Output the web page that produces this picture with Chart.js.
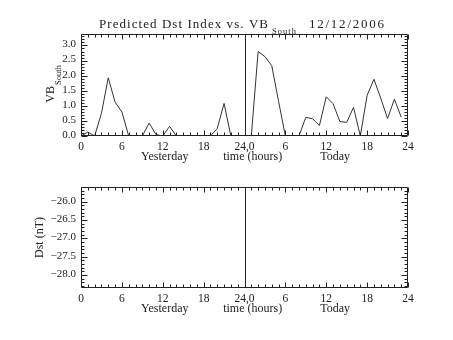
<!DOCTYPE html>
<html><head><meta charset="utf-8">
<script src="https://cdn.jsdelivr.net/npm/chart.js@4"></script>
<style>
html,body{margin:0;padding:0;background:#fff;}
#wrap{position:relative;width:453px;height:340px;background:#fff;}
.box{position:absolute;left:0;width:453px;height:170px;}
canvas{display:block;}
</style></head><body>
<div id="wrap">
<div class="box" style="top:0"><canvas id="c1" width="453" height="170"></canvas></div>
<div class="box" style="top:170px"><canvas id="c2" width="453" height="170"></canvas></div>
</div>
<script>
// ---- data ----
const hours = [0,1,2,3,4,5,6,7,8,9,10,11,12,13,14,15,16,17,18,19,20,21,22,23,
               24,25,26,27,28,29,30,31,32,33,34,35,36,37,38,39,40,41,42,43,44,45,46,47];
const vbSouth = [0.0,0.13,0.0,0.75,1.93,1.12,0.8,0,0,0,0.43,0.05,0.0,0.32,0,0,0,0,0,0,0.25,1.08,0,0,
                 0,0,2.8,2.63,2.33,1.15,0,0,0,0.62,0.57,0.35,1.3,1.07,0.48,0.45,0.95,0,1.35,1.88,1.25,0.58,1.22,0.63];
const dstValues = []; // no Dst prediction plotted
const xTickValues = [0,6,12,18,24,30,36,42,48];
const xTickLabels = ['0','6','12','18','24,0','6','12','18','24'];
const vbTickValues = [0,0.5,1,1.5,2,2.5,3];
const dstTickValues = [-28,-27.5,-27,-26.5,-26];
const dayLabels = ['Yesterday','time (hours)','Today'];
const titleMain = 'Predicted Dst Index vs. VB';
const titleSub = 'South';
const titleDate = '12/12/2006';
const vbAxisMain = 'VB';
const vbAxisSub = 'South';
const dstAxisTitle = 'Dst (nT)';

const FONT = '"Liberation Serif","Times New Roman",serif';
const INK = '#222';

function drawSpaced(ctx, text, x, y, target) {
  const ws = [...text].map(c => ctx.measureText(c).width);
  const tot = ws.reduce((a,b)=>a+b,0);
  const extra = text.length > 1 ? (target - tot) / (text.length - 1) : 0;
  let cx = x;
  [...text].forEach((c,i) => { ctx.fillText(c, cx, y); cx += ws[i] + extra; });
}

function makeDecor(cfg) {
  return {
    id: 'decor',
    afterDatasetsDraw(chart) {
      const {ctx, chartArea: a, scales: {x, y}} = chart;
      ctx.save();
      ctx.strokeStyle = INK;
      ctx.lineWidth = 1;
      const L = Math.round(a.left)+0.5, R = Math.round(a.right)-0.5;
      const T = Math.round(a.top)+0.5, B = Math.round(a.bottom)-0.5;
      ctx.beginPath();
      ctx.rect(L, T, R-L, B-T);
      // x ticks every hour, inward on top and bottom
      for (let h = 0; h <= 48; h++) {
        const px = Math.round(x.getPixelForValue(h)) + 0.5;
        const len = (h % 6 === 0) ? 5 : 3;
        ctx.moveTo(px, B); ctx.lineTo(px, B - len);
        ctx.moveTo(px, T); ctx.lineTo(px, T + len);
      }
      // y minor/major ticks
      const start = Math.ceil(y.min * 10 - 1e-6), end = Math.floor(y.max * 10 + 1e-6);
      for (let k = start; k <= end; k++) {
        const py = Math.round(y.getPixelForValue(k/10)) + 0.5;
        const len = (k % 5 === 0) ? 6 : 3;
        ctx.moveTo(L, py); ctx.lineTo(L + len, py);
        ctx.moveTo(R, py); ctx.lineTo(R - len, py);
      }
      // midnight separator
      const mx = Math.round(x.getPixelForValue(24)) + 0.5;
      ctx.moveTo(mx, T); ctx.lineTo(mx, B);
      ctx.stroke();

      ctx.fillStyle = INK;
      // x-axis title pieces
      ctx.font = '12px ' + FONT;
      ctx.textAlign = 'center';
      ctx.textBaseline = 'middle';
      const ty = a.bottom + 21;
      ctx.fillText(dayLabels[0], x.getPixelForValue(12.3), ty);
      ctx.fillText(dayLabels[1], x.getPixelForValue(25.2), ty);
      ctx.fillText(dayLabels[2], x.getPixelForValue(37.3), ty);

      // y-axis title (rotated)
      const cy = (a.top + a.bottom) / 2 + cfg.yTitleShift;
      ctx.save();
      ctx.translate(cfg.yTitleX, cy);
      ctx.rotate(-Math.PI/2);
      ctx.textBaseline = 'alphabetic';
      ctx.textAlign = 'left';
      if (cfg.sub) {
        ctx.font = '12px ' + FONT;
        const w1 = ctx.measureText(cfg.main).width;
        ctx.font = '8.5px ' + FONT;
        const w2 = ctx.measureText(cfg.sub).width;
        const x0 = -(w1 + 1 + w2) / 2;
        ctx.font = '12px ' + FONT;
        ctx.fillText(cfg.main, x0, 0);
        ctx.font = '8.5px ' + FONT;
        ctx.fillText(cfg.sub, x0 + w1 + 1, 6.5);
      } else {
        ctx.font = '12px ' + FONT;
        ctx.textAlign = 'center';
        ctx.fillText(cfg.main, 0, 0);
      }
      ctx.restore();

      // chart title
      if (cfg.title) {
        ctx.textAlign = 'left';
        ctx.textBaseline = 'alphabetic';
        ctx.font = '13px ' + FONT;
        drawSpaced(ctx, titleMain, 99, 28, 169);
        ctx.font = '8.5px ' + FONT;
        drawSpaced(ctx, titleSub, 272, 34, 24);
        ctx.font = '13px ' + FONT;
        drawSpaced(ctx, titleDate, 309, 28, 75);
      }
      ctx.restore();
    }
  };
}

function xScale(h) {
  return {
    type: 'linear', min: 0, max: 48,
    grid: {display: false, drawTicks: false},
    border: {display: false},
    afterBuildTicks: s => { s.ticks = xTickValues.map(v => ({value: v})); },
    afterFit: s => { s.height = h; },
    ticks: {
      padding: 4, maxRotation: 0, autoSkip: false,
      color: INK, font: {family: FONT, size: 11.5},
      callback: (v, i) => xTickLabels[i]
    }
  };
}

function yScale(min, max, vals, fmt) {
  return {
    type: 'linear', min, max,
    grid: {display: false, drawTicks: false},
    border: {display: false},
    afterBuildTicks: s => { s.ticks = vals.map(v => ({value: v})); },
    afterFit: s => { s.width = 81; },
    ticks: {
      padding: 5, labelOffset: -1,
      color: INK, font: {family: FONT, size: 11},
      callback: fmt
    }
  };
}

new Chart(document.getElementById('c1'), {
  type: 'line',
  data: {datasets: [{
    data: hours.map((h, i) => ({x: h, y: vbSouth[i]})),
    borderColor: '#333', borderWidth: 1, pointRadius: 0, tension: 0, fill: false
  }]},
  options: {
    responsive: false, animation: false,
    layout: {padding: {top: 34, right: 45, left: 0, bottom: 0}},
    plugins: {legend: {display: false}, tooltip: {enabled: false}},
    scales: {
      x: xScale(34),
      y: yScale(0, 3.38, vbTickValues, v => v.toFixed(1))
    }
  },
  plugins: [makeDecor({title: true, main: vbAxisMain, sub: vbAxisSub, yTitleShift: -1, yTitleX: 54})]
});

new Chart(document.getElementById('c2'), {
  type: 'line',
  data: {datasets: [{
    data: dstValues,
    borderColor: '#333', borderWidth: 1, pointRadius: 0, tension: 0, fill: false
  }]},
  options: {
    responsive: false, animation: false,
    layout: {padding: {top: 17, right: 45, left: 0, bottom: 0}},
    plugins: {legend: {display: false}, tooltip: {enabled: false}},
    scales: {
      x: xScale(52),
      y: yScale(-28.35, -25.6, dstTickValues, v => '\u2212' + Math.abs(v).toFixed(1))
    }
  },
  plugins: [makeDecor({title: false, main: dstAxisTitle, sub: null, yTitleShift: 0, yTitleX: 43})]
});
</script>
</body></html>
